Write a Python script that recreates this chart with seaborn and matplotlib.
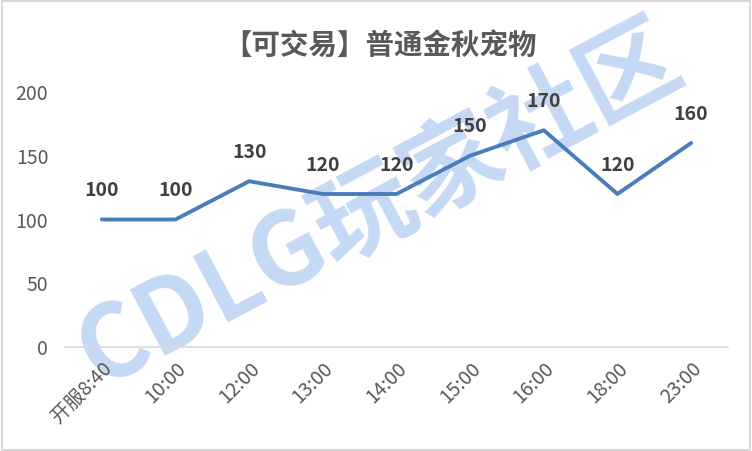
import matplotlib
matplotlib.use("Agg")
import matplotlib.pyplot as plt
import seaborn as sns
import pandas as pd
from matplotlib.patches import Rectangle

times = ["开服8:40", "10:00", "12:00", "13:00", "14:00", "15:00", "16:00", "18:00", "23:00"]
prices = [100, 100, 130, 120, 120, 150, 170, 120, 160]
yticks = [0, 50, 100, 150, 200]
title = "【可交易】普通金秋宠物"
watermark = "CDLG玩家社区"

sns.set_theme(style="white")
plt.rcParams['font.family'] = ['Noto Sans CJK SC', 'DejaVu Sans']

df = pd.DataFrame({"time": times, "price": prices})

fig = plt.figure(figsize=(7.52, 4.51), dpi=100)
ax = fig.add_axes([0.0864, 0.2306, 0.968 - 0.0864, 0.796 - 0.2306])
ax.patch.set_alpha(0)

# watermark behind
fig.text(0.505, 0.545, watermark, rotation=28, fontsize=72, color='#c6d9f4',
         weight='heavy', ha='center', va='center', zorder=-1)

sns.lineplot(data=df, x="time", y="price", sort=False, ax=ax, color='#4a7ebb',
             linewidth=2.8, solid_capstyle='round', solid_joinstyle='round')

for i, v in enumerate(prices):
    ax.annotate(str(v), (i, v), xytext=(0, 14), textcoords='offset points',
                ha='center', va='bottom', fontsize=14, weight='bold', color='#404040')

ax.set_xlim(-0.5, len(times) - 0.5)
ax.set_ylim(0, 200)
ax.set_yticks(yticks)
ax.set_xticks(range(len(times)))
ax.set_xticklabels(times, rotation=45, ha='right', va='top', rotation_mode='anchor')
ax.tick_params(axis='y', length=0, pad=12, labelsize=14, labelcolor='#595959')
ax.tick_params(axis='x', length=0, pad=8, labelsize=14, labelcolor='#595959')
ax.set_xlabel("")
ax.set_ylabel("")
for s in ['top', 'right', 'left']:
    ax.spines[s].set_visible(False)
ax.spines['bottom'].set_color('#d9d9d9')
ax.spines['bottom'].set_linewidth(1.2)
ax.grid(False)

fig.text(0.505, 0.898, title, ha='center', va='center', fontsize=20.5,
         weight='bold', color='#595959')

fig.patches.append(Rectangle((0.002, 0.003), 0.996, 0.994, transform=fig.transFigure,
                             fill=False, edgecolor='#d9d9d9', linewidth=1.5))

fig.savefig("out.png", dpi=100)
